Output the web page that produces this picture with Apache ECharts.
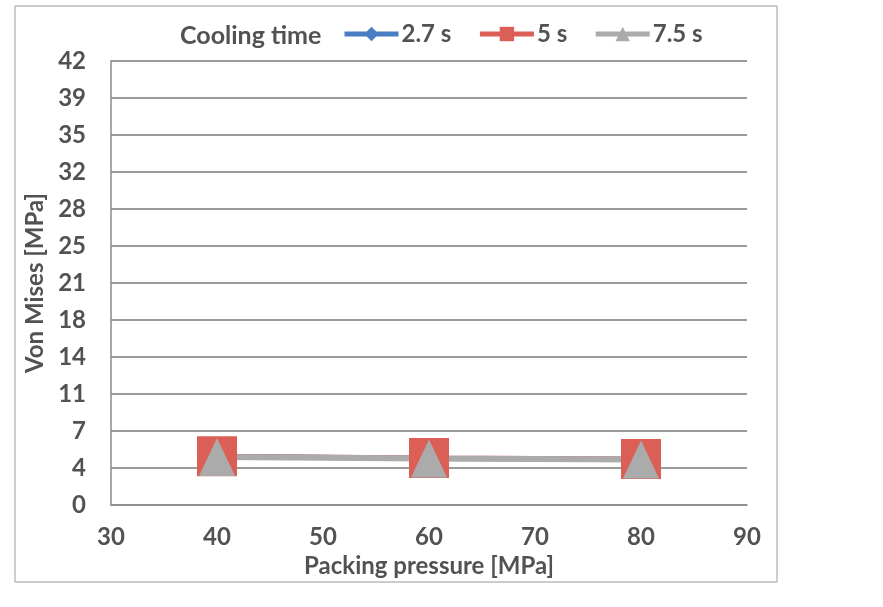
<!DOCTYPE html>
<html><head><meta charset="utf-8">
<script src="https://cdn.jsdelivr.net/npm/echarts@6/dist/echarts.min.js"></script>
<style>html,body{margin:0;padding:0;background:#fff}#c{width:883px;height:607px}</style>
</head><body><div id="c"></div>
<script>
const xValues = [40, 60, 80];
const seriesNames = ['2.7 s', '5 s', '7.5 s'];
const cool27 = [4.6, 4.4, 4.3];
const cool5 = [4.6, 4.45, 4.35];
const cool75 = [4.55, 4.4, 4.3];
const yTickLabels = ['0','4','7','11','14','18','21','25','28','32','35','39','42'];
const legendTitle = 'Cooling time';
const xTitle = 'Packing pressure [MPa]';
const yTitle = 'Von Mises [MPa]';

const FONT = 'Lato';
const TXT = '#525252';
const FS = 24;
const pairs = v => xValues.map((x, i) => [x, v[i]]);

const chart = echarts.init(document.getElementById('c'), null, {renderer: 'canvas'});
chart.setOption({
  animation: false,
  backgroundColor: '#fff',
  textStyle: {fontFamily: FONT},
  grid: {left: 111, right: 136, top: 61, bottom: 102},
  graphic: [
    {type: 'rect', shape: {x: 15, y: 6, width: 762, height: 576},
     style: {fill: 'none', stroke: '#9a9a9a', lineWidth: 1}},
    {type: 'text', x: 180, y: 36,
     style: {text: legendTitle, fill: TXT, font: 'bold 25px ' + FONT, textVerticalAlign: 'middle'}}
  ],
  legend: {
    left: 342, top: 22, padding: 0, itemWidth: 54, itemHeight: 18, itemGap: 26,
    data: seriesNames,
    lineStyle: {width: 5},
    textStyle: {color: TXT, fontSize: FS, fontWeight: 'bold', fontFamily: FONT, padding: [0, 0, 0, -2]}
  },
  xAxis: {
    type: 'value', min: 30, max: 90, interval: 10,
    name: xTitle, nameLocation: 'middle', nameGap: 46,
    nameTextStyle: {color: TXT, fontSize: FS, fontWeight: 'bold', fontFamily: FONT},
    axisLine: {show: true, lineStyle: {color: '#8a8a8a', width: 1.5}},
    axisTick: {show: false},
    splitLine: {show: false},
    axisLabel: {color: TXT, fontSize: FS, fontWeight: 'bold', fontFamily: FONT, margin: 20}
  },
  yAxis: {
    type: 'value', min: 0, max: 42, interval: 3.5,
    name: yTitle, nameLocation: 'middle', nameGap: 57, nameRotate: 90,
    nameTextStyle: {color: TXT, fontSize: FS, fontWeight: 'bold', fontFamily: FONT},
    axisLine: {show: true, lineStyle: {color: '#8a8a8a', width: 1.5}},
    axisTick: {show: false},
    splitLine: {show: true, lineStyle: {color: '#7a7a7a', width: 1.5}},
    axisLabel: {color: TXT, fontSize: FS, fontWeight: 'bold', fontFamily: FONT, margin: 25,
      formatter: v => yTickLabels[Math.round(v / 3.5)]}
  },
  series: [
    {name: seriesNames[0], type: 'line', data: pairs(cool27), symbol: 'diamond', symbolSize: 30,
     itemStyle: {color: '#4a7ec3'}, lineStyle: {color: '#4a7ec3', width: 5}},
    {name: seriesNames[1], type: 'line', data: pairs(cool5), symbol: 'rect', symbolSize: 40,
     itemStyle: {color: '#dc5f57'}, lineStyle: {color: '#dc5f57', width: 5}},
    {name: seriesNames[2], type: 'line', data: pairs(cool75), symbol: 'triangle', symbolSize: [36, 38],
     itemStyle: {color: '#ababab'}, lineStyle: {color: '#ababab', width: 6}}
  ]
});
</script></body></html>
